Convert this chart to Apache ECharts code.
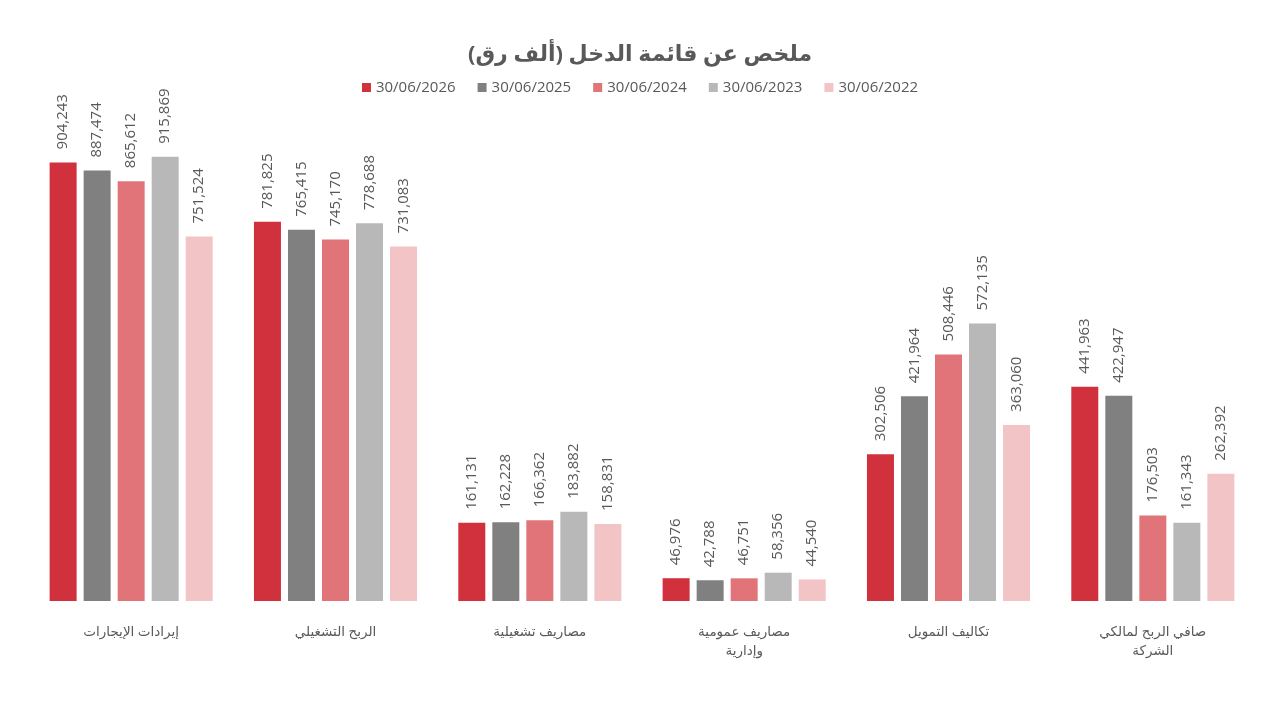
<!DOCTYPE html>
<html>
<head>
<meta charset="utf-8">
<script src="https://cdn.jsdelivr.net/npm/echarts@6/dist/echarts.min.js"></script>
<style>
  html, body { margin: 0; padding: 0; background: #fff; }
  #main { width: 1280px; height: 720px; }
</style>
</head>
<body>
<div id="main"></div>
<script>
var categories = ['إيرادات الإيجارات', 'الربح التشغيلي', 'مصاريف تشغيلية', 'مصاريف عمومية\nوإدارية', 'تكاليف التمويل', 'صافي الربح لمالكي\nالشركة'];
var seriesNames = ['30/06/2026', '30/06/2025', '30/06/2024', '30/06/2023', '30/06/2022'];
var colors = ['#D0313C', '#808080', '#E07479', '#B8B8B8', '#F2C4C6'];
var v2026 = [904243, 781825, 161131, 46976, 302506, 441963];
var v2025 = [887474, 765415, 162228, 42788, 421964, 422947];
var v2024 = [865612, 745170, 166362, 46751, 508446, 176503];
var v2023 = [915869, 778688, 183882, 58356, 572135, 161343];
var v2022 = [751524, 731083, 158831, 44540, 363060, 262392];
var values = [v2026, v2025, v2024, v2023, v2022];

var font = "'Open Sans', 'DejaVu Sans', sans-serif";
var textColor = '#595959';

var series = [];
for (var i = 0; i < seriesNames.length; i++) {
	series.push({
		name : seriesNames[i],
		type : 'bar',
		data : values[i],
		barWidth : 27,
		barGap : '26%',
		itemStyle : { color : colors[i] },
		label : {
			show : true,
			position : 'top',
			rotate : 90,
			align : 'left',
			verticalAlign : 'middle',
			distance : 13,
			color : textColor,
			fontSize : 15,
			fontFamily : font,
			formatter : function(p) {
				return p.value.toLocaleString('en-US');
			}
		}
	});
}

var chart = echarts.init(document.getElementById('main'));
chart.setOption({
	animation : false,
	color : colors,
	title : {
		text : 'ملخص عن قائمة الدخل (ألف رق)',
		left : 'center',
		top : 39,
		textStyle : { color : textColor, fontSize : 22, fontWeight : 'bold', fontFamily : font }
	},
	legend : {
		top : 75,
		left : 'center',
		itemWidth : 9,
		itemHeight : 9,
		itemGap : 22,
		icon : 'rect',
		textStyle : { color : textColor, fontSize : 15, fontFamily : font },
		data : seriesNames
	},
	grid : { left : 29, right : 25, top : 116, bottom : 119 },
	xAxis : {
		type : 'category',
		data : categories,
		axisLine : { show : false },
		axisTick : { show : false },
		axisLabel : { color : textColor, fontSize : 13.5, fontFamily : font, margin : 22, lineHeight : 19, interval : 0 }
	},
	yAxis : {
		type : 'value',
		min : 0,
		max : 1000000,
		show : false,
		splitLine : { show : false }
	},
	series : series
});
</script>
</body>
</html>
